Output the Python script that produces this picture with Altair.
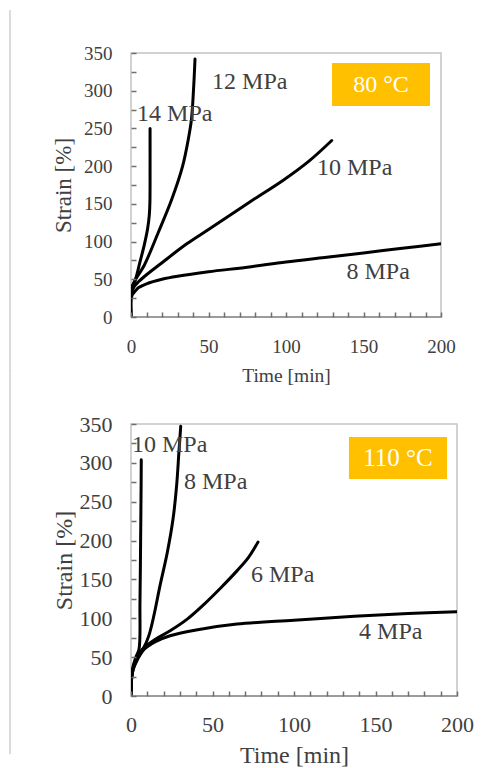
import altair as alt
import pandas as pd

# ---------------- data: top panel (80 °C) ----------------
t80_8 = [0, 0.2, 1, 3, 5, 10, 20, 30, 50, 75, 100, 125, 150, 175, 200]
s80_8 = [0, 25, 30, 35, 39, 44, 50, 54, 60, 66, 73, 79, 85, 91, 97]
t80_10 = [0, 0.2, 2, 5, 10, 20, 36, 50, 66, 80, 98, 115, 129.5]
s80_10 = [0, 30, 40, 47, 56, 72, 97, 116, 138, 157, 181, 207, 234]
t80_12 = [0, 0.2, 3, 8.4, 17.6, 26.3, 33.3, 37, 39, 40.3, 41.3]
s80_12 = [0, 36, 50, 68, 112, 156, 200, 236, 262, 300, 342]
t80_14 = [0, 0.2, 2.6, 5.8, 8.5, 10.7, 11.8, 12.2, 12.3, 12.3]
s80_14 = [0, 38, 48, 73, 95, 117, 135, 152, 200, 250]

lab80_text = ["14 MPa", "12 MPa", "10 MPa", "8 MPa"]
lab80_t = [3.9, 52.3, 120, 139]
lab80_s = [260, 302, 188, 50]

box80 = {"t": 129.7, "t2": 192.9, "s": 336.7, "s2": 279.7, "label": "80 °C"}

# ---------------- data: bottom panel (110 °C) ----------------
t110_4 = [0, 0.5, 1.5, 4, 8, 15, 24, 40, 65, 100, 137, 170, 200]
s110_4 = [0, 25, 35, 47, 60, 70, 77.5, 85, 92.5, 97.5, 102.5, 106, 108.5]
t110_6 = [0, 0.5, 1.5, 4, 8, 15, 24, 34.5, 44.8, 55, 65, 72, 77.9]
s110_6 = [0, 25, 36, 49, 62, 73, 84, 99, 118, 139, 161, 178, 198]
t110_8 = [0, 0.5, 1.5, 4, 8, 11, 14, 17.8, 22.3, 25.8, 28, 29.4, 30.5]
s110_8 = [0, 26, 38, 52, 63, 78, 103, 142, 185, 228, 271, 314, 347]
t110_10 = [0, 0.5, 1.5, 3, 4.9, 5.5, 5.9, 6.2, 6.3]
s110_10 = [0, 28, 40, 50, 60, 120, 200, 270, 304]

lab110_text = ["10 MPa", "8 MPa", "6 MPa", "4 MPa"]
lab110_t = [0.6, 32.5, 73.6, 139.9]
lab110_s = [314, 266, 146.7, 73.3]

box110 = {"t": 133.7, "t2": 193.9, "s": 333.3, "s2": 279.2, "label": "110 °C"}

x_ticks = list(range(0, 201, 10))
y_ticks = list(range(0, 351, 25))

FONT = "Liberation Serif, Times New Roman, serif"
TXT = "#404040"
BOX = "#FFC000"


def lines_df(series):
    rows = []
    for name, ts, ss in series:
        for i, (t, s) in enumerate(zip(ts, ss)):
            rows.append({"series": name, "t": t, "s": s, "i": i})
    return pd.DataFrame(rows)


def panel(series, lab_text, lab_t, lab_s, box, w, h, tick_fs, xt_fs, yt_fs,
          ann_fs, box_fs, xlp, ylp, xtp, ytp, edge_y1, edge_y2):
    xax = alt.Axis(values=x_ticks, labelExpr="datum.value % 50 === 0 ? datum.label : ''",
                   labelOverlap=False, labelFlush=False, grid=False, domain=False,
                   ticks=True, tickSize=5, tickWidth=1.5, tickColor="#6e6e6e", offset=-5,
                   labelPadding=xlp, labelFont=FONT, labelFontSize=tick_fs, labelColor=TXT,
                   title="Time [min]", titleFont=FONT, titleFontSize=xt_fs,
                   titleFontWeight="normal", titleColor=TXT, titlePadding=xtp, zindex=1)
    yax = alt.Axis(values=y_ticks, labelExpr="datum.value % 50 === 0 ? datum.label : ''",
                   labelOverlap=False, labelFlush=False, grid=False, domain=False,
                   ticks=True, tickSize=5, tickWidth=1.5, tickColor="#6e6e6e", offset=-5,
                   labelPadding=ylp, labelFont=FONT, labelFontSize=tick_fs, labelColor=TXT,
                   title="Strain [%]", titleFont=FONT, titleFontSize=yt_fs,
                   titleFontWeight="normal", titleColor=TXT, titlePadding=ytp, zindex=1)
    xs = alt.Scale(domain=[0, 200], nice=False)
    ys = alt.Scale(domain=[0, 350], nice=False)
    X = alt.X("t:Q", scale=xs, axis=xax)
    Y = alt.Y("s:Q", scale=ys, axis=yax)

    lines = alt.Chart(lines_df(series)).mark_line(
        color="black", strokeWidth=3, clip=True, strokeCap="round", strokeJoin="round",
        interpolate="catmull-rom"
    ).encode(x=X, y=Y, detail="series:N", order="i:Q")

    labs = alt.Chart(pd.DataFrame({"t": lab_t, "s": lab_s, "label": lab_text})).mark_text(
        align="left", baseline="alphabetic", font=FONT, fontSize=ann_fs, color=TXT
    ).encode(x=X, y=Y, text="label:N")

    bdf = pd.DataFrame([box])
    rect = alt.Chart(bdf).mark_rect(color=BOX).encode(x=X, x2="t2:Q", y=Y, y2="s2:Q")
    bdf2 = pd.DataFrame([{"t": (box["t"] + box["t2"]) / 2, "s": (box["s"] + box["s2"]) / 2,
                          "label": box["label"]}])
    btxt = alt.Chart(bdf2).mark_text(
        align="center", baseline="middle", font=FONT, fontSize=box_fs, color="white"
    ).encode(x=X, y=Y, text="label:N")

    one = pd.DataFrame({"k": [0]})
    # darker bottom axis line
    xline = alt.Chart(one).mark_rule(color="#8a8a8a", strokeWidth=1.5).encode(
        x=alt.value(0), x2=alt.value(w), y=alt.value(h))
    # faint page border line on the far left of the source figure
    edge = alt.Chart(one).mark_rule(color="#cfcfcf", strokeWidth=1.5).encode(
        x=alt.value(-121), y=alt.value(edge_y1), y2=alt.value(edge_y2))

    return alt.layer(lines, rect, btxt, labs, xline, edge).properties(width=w, height=h)


top = panel([("8", t80_8, s80_8), ("10", t80_10, s80_10), ("12", t80_12, s80_12),
             ("14", t80_14, s80_14)],
            lab80_text, lab80_t, lab80_s, box80, 310, 264,
            tick_fs=19, xt_fs=19.5, yt_fs=23, ann_fs=24, box_fs=24,
            xlp=20, ylp=19, xtp=10, ytp=8, edge_y1=-43, edge_y2=318)

bottom = panel([("4", t110_4, s110_4), ("6", t110_6, s110_6), ("8", t110_8, s110_8),
                ("10", t110_10, s110_10)],
               lab110_text, lab110_t, lab110_s, box110, 326, 272,
               tick_fs=22, xt_fs=24, yt_fs=24, ann_fs=24, box_fs=25,
               xlp=18, ylp=19, xtp=8, ytp=3, edge_y1=-54, edge_y2=330)

chart = alt.vconcat(top, bottom, spacing=107, bounds="flush").configure(
    padding={"left": 0, "top": 0, "right": 5, "bottom": 0},
    background="white",
).configure_view(stroke="#c4c4c4", strokeWidth=1.5)

chart.save("out.html", embed_options={"renderer": "svg", "actions": False})
